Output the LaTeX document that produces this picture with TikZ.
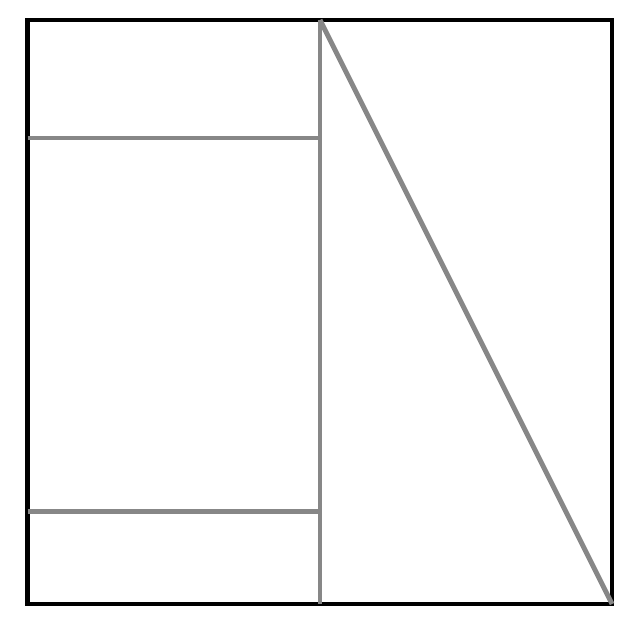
\documentclass[tikz,border=0pt]{standalone}
\usepackage{tikz}
\usetikzlibrary{calc}
\tikzset{frame/.style={line width=3.5pt,black},
         fold/.style={line width=3.5pt,black!47}}
\begin{document}
\begin{tikzpicture}
                      \useasboundingbox(0,0)rectangle(16,15.5);
                      \coordinate(sw)at(0.69,0.4);
                      \coordinate(ne)at(15.3,15);
                      \coordinate(mt)at(8,15);
                      \coordinate(mb)at(8,0.4);
                      \coordinate(se)at(15.3,0.4);
                      \draw[frame](sw)rectangle(ne);
                      \foreach \y/\n in {12.05/u, 2.72/l} \draw[fold] (0.69,\y) coordinate(\n) -- (8,\y);
                      \draw[fold](mt)--(mb);
                      \draw[fold](mt)--(se);
                  \end{tikzpicture}
\end{document}
